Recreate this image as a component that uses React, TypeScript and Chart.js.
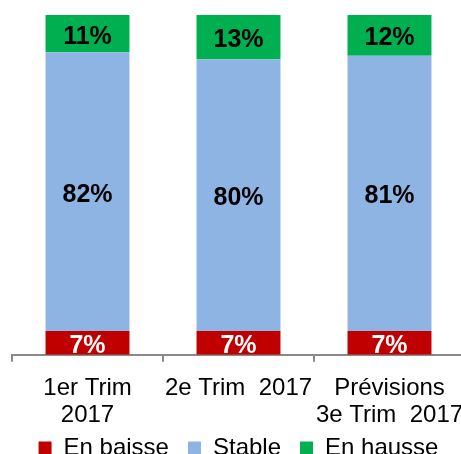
import React, { useEffect, useRef } from "react";
import { Chart, registerables } from "chart.js";

Chart.register(...registerables);

const categories: (string | string[])[] = [
  ["1er Trim", "2017"],
  "2e Trim  2017",
  ["Prévisions", "3e Trim  2017"],
];
const enBaisse = [7, 7, 7];
const stable = [82, 80, 81];
const enHausse = [11, 13, 12];

const FONT = "'Liberation Sans', Arial, sans-serif";

const segLabels = {
  id: "segLabels",
  afterDatasetsDraw(chart: any) {
    const ctx = chart.ctx;
    ctx.save();
    ctx.font = `bold 25px ${FONT}`;
    ctx.textAlign = "center";
    ctx.textBaseline = "middle";
    chart.data.datasets.forEach((ds: any, di: number) => {
      const meta = chart.getDatasetMeta(di);
      meta.data.forEach((bar: any, i: number) => {
        const p = bar.getProps(["x", "y", "base"], true);
        ctx.fillStyle = di === 0 ? "#FFFFFF" : "#000000";
        ctx.fillText(`${ds.data[i]}%`, p.x, (p.y + p.base) / 2 + 3);
      });
    });
    ctx.restore();
  },
};

// pull the legend closer to the axis labels (Excel-like tight layout)
const legendLift = {
  id: "legendLift",
  afterLayout(chart: any) {
    const lg = chart.legend;
    if (lg) {
      lg.top -= 25;
      lg.bottom -= 25;
    }
  },
};

export default function App() {
  const ref = useRef<HTMLCanvasElement | null>(null);
  useEffect(() => {
    if (!ref.current) return;
    const chart = new Chart(ref.current, {
      type: "bar",
      data: {
        labels: categories,
        datasets: [
          { label: "En baisse", data: enBaisse, backgroundColor: "#C00000" },
          { label: "Stable", data: stable, backgroundColor: "#8EB4E3" },
          { label: "En hausse", data: enHausse, backgroundColor: "#00B050" },
        ],
      },
      options: {
        responsive: false,
        animation: false,
        devicePixelRatio: 1,
        layout: { padding: { left: 12, right: 15, top: 15, bottom: 8 } },
        datasets: { bar: { categoryPercentage: 1, barPercentage: 0.556 } },
        scales: {
          x: {
            stacked: true,
            offset: true,
            border: { display: true, color: "#898989", width: 2 },
            grid: {
              offset: true,
              drawOnChartArea: false,
              drawTicks: true,
              tickLength: 7,
              color: "#898989",
              lineWidth: 2,
            },
            ticks: {
              autoSkip: false,
              maxRotation: 0,
              minRotation: 0,
              padding: 13,
              color: "#000000",
              font: { family: FONT, size: 24, lineHeight: 1.13 },
            },
          },
          y: {
            stacked: true,
            display: false,
            min: 0,
            max: 100,
          },
        },
        plugins: {
          legend: {
            position: "bottom",
            labels: {
              boxWidth: 13,
              boxHeight: 13,
              padding: 19,
              color: "#000000",
              font: { family: FONT, size: 24 },
            },
          },
          tooltip: { enabled: false },
        },
      },
      plugins: [segLabels, legendLift],
    });
    return () => chart.destroy();
  }, []);
  return (
    <div
      style={{
        position: "fixed",
        left: 0,
        top: 0,
        width: 461,
        height: 454,
        overflow: "hidden",
        background: "#fff",
      }}
    >
      <canvas ref={ref} width={480} height={503} />
    </div>
  );
}
